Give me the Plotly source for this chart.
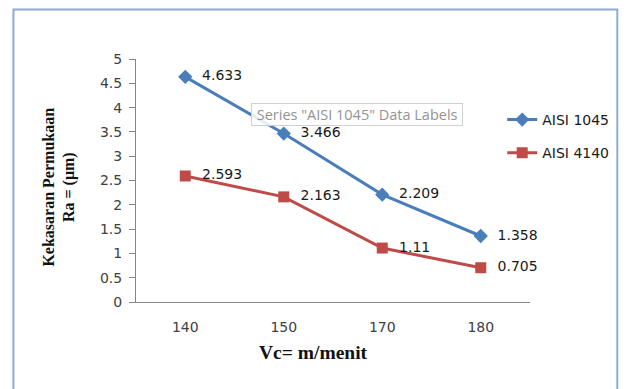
import plotly.graph_objects as go

categories = ["140", "150", "170", "180"]
aisi_1045 = [4.633, 3.466, 2.209, 1.358]
aisi_4140 = [2.593, 2.163, 1.11, 0.705]
label_1045 = ["4.633", "3.466", "2.209", "1.358"]
label_4140 = ["2.593", "2.163", "1.11", "0.705"]
y_ticks = [0, 0.5, 1, 1.5, 2, 2.5, 3, 3.5, 4, 4.5, 5]

NB = "\u00a0"
fig = go.Figure()
fig.add_trace(go.Scatter(
    x=categories, y=aisi_1045, name="AISI 1045", mode="lines+markers+text",
    text=[NB + NB + t for t in label_1045], textposition="middle right",
    textfont=dict(family="DejaVu Sans", size=14, color="#1a1a1a"),
    line=dict(color="#4a7ebb", width=3),
    marker=dict(symbol="diamond", size=11, color="#4a7ebb"),
    legendgroup="a", cliponaxis=False,
))
fig.add_trace(go.Scatter(
    x=categories, y=aisi_4140, name="AISI 4140", mode="lines+markers+text",
    text=[NB + NB + t for t in label_4140], textposition="middle right",
    textfont=dict(family="DejaVu Sans", size=14, color="#1a1a1a"),
    line=dict(color="#be4b48", width=3),
    marker=dict(symbol="square", size=11, color="#be4b48"),
    legendgroup="b", cliponaxis=False,
))

L, R, T, B = 136, 93, 59, 87
W, H = 626, 389
pw, ph = W - L - R, H - T - B

def px(x):
    return (x - L) / pw

def py(y):
    return (H - B - y) / ph

fig.update_layout(
    width=W, height=H,
    margin=dict(l=L, r=R, t=T, b=B),
    paper_bgcolor="white", plot_bgcolor="white",
    showlegend=True, hovermode=False,
    legend=dict(x=px(505), y=py(104), xanchor="left", yanchor="top",
                font=dict(family="DejaVu Sans", size=14, color="#1a1a1a"),
                tracegroupgap=12, bgcolor="rgba(0,0,0,0)"),
    xaxis=dict(type="category", range=[-0.5, 3.5], showline=True,
               linecolor="#868686", linewidth=1, showgrid=False, ticks="",
               ticklabelstandoff=12,
               tickfont=dict(family="DejaVu Sans", size=14, color="#404040"),
               zeroline=False),
    yaxis=dict(range=[0, 5], tickvals=y_ticks, showline=True,
               linecolor="#868686", linewidth=1, showgrid=False,
               ticks="outside", ticklen=6, tickcolor="#868686",
               ticklabelstandoff=4,
               tickfont=dict(family="DejaVu Sans", size=14, color="#404040"),
               zeroline=False),
    shapes=[dict(type="rect", xref="paper", yref="paper",
                 x0=px(12.5), x1=px(621), y0=py(400), y1=py(9.5),
                 line=dict(color="#8eaad6", width=2), fillcolor="rgba(0,0,0,0)",
                 layer="below")],
    annotations=[
        dict(text="<b>Vc= m/menit</b>", xref="paper", yref="paper",
             x=px(315), y=py(352), xanchor="center", yanchor="middle",
             showarrow=False,
             font=dict(family="Liberation Serif", size=19.5, color="#111111")),
        dict(text="<b>Kekasaran Permukaan<br>Ra = (μm)</b>", xref="paper", yref="paper",
             x=px(58), y=py(187), xanchor="center", yanchor="middle",
             showarrow=False, textangle=-90,
             font=dict(family="Liberation Serif", size=16, color="#111111")),
        dict(text=NB + 'Series "AISI 1045" Data Labels' + NB, xref="paper", yref="paper",
             x=px(359), y=py(114.5), xanchor="center", yanchor="middle",
             showarrow=False,
             font=dict(family="Open Sans", size=14.5, color="#939393"),
             bgcolor="rgba(255,255,255,0.85)", bordercolor="#d0d0d0",
             borderwidth=1, borderpad=1),
    ],
)

fig.write_html("out.html", config={"displayModeBar": False},
               post_script="document.body.style.margin='0';document.body.style.overflow='hidden';")
